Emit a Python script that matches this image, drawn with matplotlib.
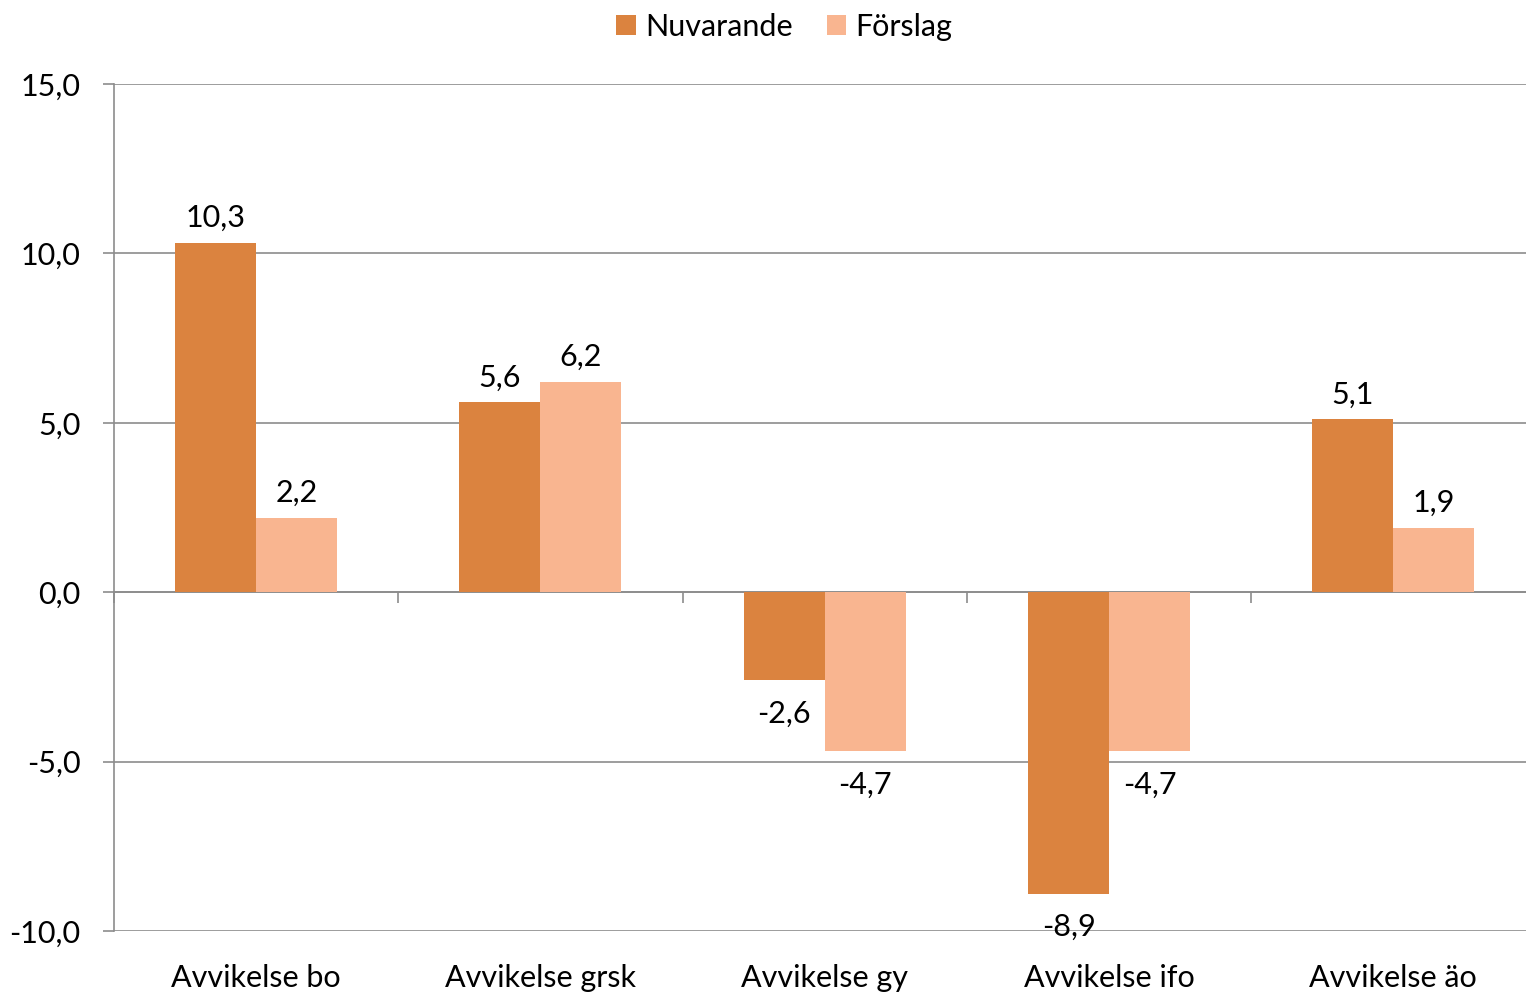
import numpy as np
import matplotlib.pyplot as plt

categories = ["Avvikelse bo", "Avvikelse grsk", "Avvikelse gy", "Avvikelse ifo", "Avvikelse äo"]
nuvarande = [10.3, 5.6, -2.6, -8.9, 5.1]
forslag = [2.2, 6.2, -4.7, -4.7, 1.9]
series_names = ["Nuvarande", "Förslag"]
yticks = [-10, -5, 0, 5, 10, 15]

plt.rcParams['font.family'] = ['Lato', 'DejaVu Sans']

fig = plt.figure(figsize=(15.26, 9.92), dpi=100)
ax = fig.add_axes([114/1526, 1 - 931/992, 1421.5/1526, (931 - 84)/992])

x = np.arange(len(categories))
w = 0.285
c1, c2 = "#DB833F", "#F9B590"
b1 = ax.bar(x - w/2, nuvarande, w, color=c1, label=series_names[0], zorder=3)
b2 = ax.bar(x + w/2, forslag, w, color=c2, label=series_names[1], zorder=3)

fs = 22
for bars, vals in [(b1, nuvarande), (b2, forslag)]:
    for b, v in zip(bars, vals):
        txt = f"{v:.1f}".replace(".", ",")
        if v >= 0:
            ax.annotate(txt, (b.get_x() + b.get_width()/2, v), xytext=(0, 8),
                        textcoords="offset points", ha="center", va="bottom", fontsize=fs)
        else:
            ax.annotate(txt, (b.get_x() + b.get_width()/2, v), xytext=(0, -14),
                        textcoords="offset points", ha="center", va="top", fontsize=fs)

ax.set_xlim(-0.5, len(categories) - 0.5)
ax.set_ylim(-10, 15)
ax.set_yticks(yticks)
ax.set_yticklabels([f"{t:.1f}".replace(".", ",") for t in yticks], fontsize=fs)
ax.yaxis.grid(True, color="#8C8C8C", linewidth=1.2, zorder=0)
ax.tick_params(axis="y", length=8, color="#8C8C8C", width=1.2, pad=16)

for s in ["top", "right"]:
    ax.spines[s].set_visible(False)
ax.spines["left"].set_color("#8C8C8C")
ax.spines["left"].set_linewidth(1.2)
ax.spines["bottom"].set_position(("data", 0))
ax.spines["bottom"].set_color("#8C8C8C")
ax.spines["bottom"].set_linewidth(1.2)
ax.set_xticks(np.arange(len(categories) + 1) - 0.5)
ax.set_xticklabels([])
ax.tick_params(axis="x", length=8, color="#8C8C8C", width=1.2)

for i, c in enumerate(categories):
    ax.text(i, -0.055, c, transform=ax.get_xaxis_transform(), ha="center", va="center", fontsize=fs)

fig.legend(loc="upper center", bbox_to_anchor=(0.514, 1.015), ncol=2, frameon=False,
           fontsize=fs, handlelength=0.65, handleheight=0.65, handletextpad=0.3, columnspacing=1.1)

fig.savefig("out.png", dpi=100)
